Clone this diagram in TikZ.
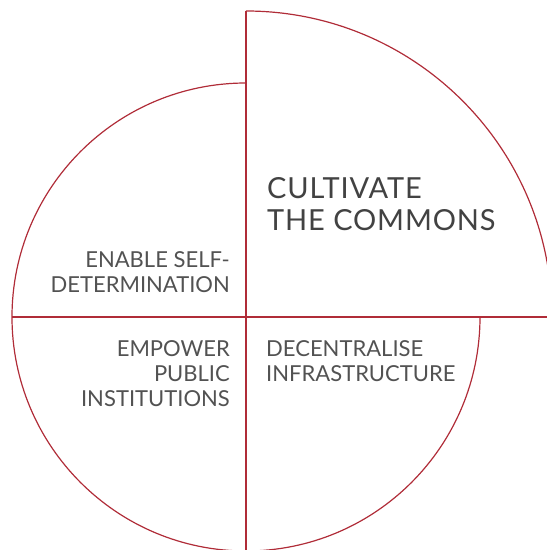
\documentclass[tikz,border=0pt]{standalone}
\usepackage{fontspec}
\setmainfont{Lato}
\usepackage{xcolor}
\usetikzlibrary{positioning}
\definecolor{vinho}{RGB}{176,44,56}
\definecolor{cinzatexto}{RGB}{82,82,82}
\tikzset{
  contorno/.style={draw=vinho,line width=1.2pt},
  rotulo/.style={inner sep=0pt,text=cinzatexto,font=\fontsize{22}{25}\selectfont},
  titulo/.style={inner sep=0pt,text=cinzatexto!80!black,
    font=\fontsize{29}{32}\selectfont\addfontfeature{LetterSpace=3}}
}
\begin{document}
\begin{tikzpicture}[x=1pt,y=1pt]
\useasboundingbox (-246,-233) rectangle (301,317);
\clip (-246,-233) rectangle (301,317);
\coordinate (O) at (0,0);
\draw[contorno] (0,234) arc[start angle=90,end angle=270,radius=234];
\draw[contorno] (0,-234) arc[start angle=270,end angle=360,radius=234];
\draw[contorno] (306,0) arc[start angle=0,end angle=90,radius=306];
\draw[contorno] (0,306) -- (0,-240);
\draw[contorno] (-234,0) -- (310,0);
\node[titulo,align=left,above right=86pt and 21pt of O] (comuns) {CULTIVATE\\THE COMMONS};
\node[rotulo,align=right,above left=24pt and 16pt of O] (autodeterminacao) {ENABLE SELF-\\DETERMINATION};
\node[rotulo,align=right,below left=23pt and 16pt of O] (instituicoes) {EMPOWER\\PUBLIC\\INSTITUTIONS};
\node[rotulo,align=left,below right=23pt and 20pt of O] (infraestrutura) {DECENTRALISE\\INFRASTRUCTURE};
\end{tikzpicture}
\end{document}
